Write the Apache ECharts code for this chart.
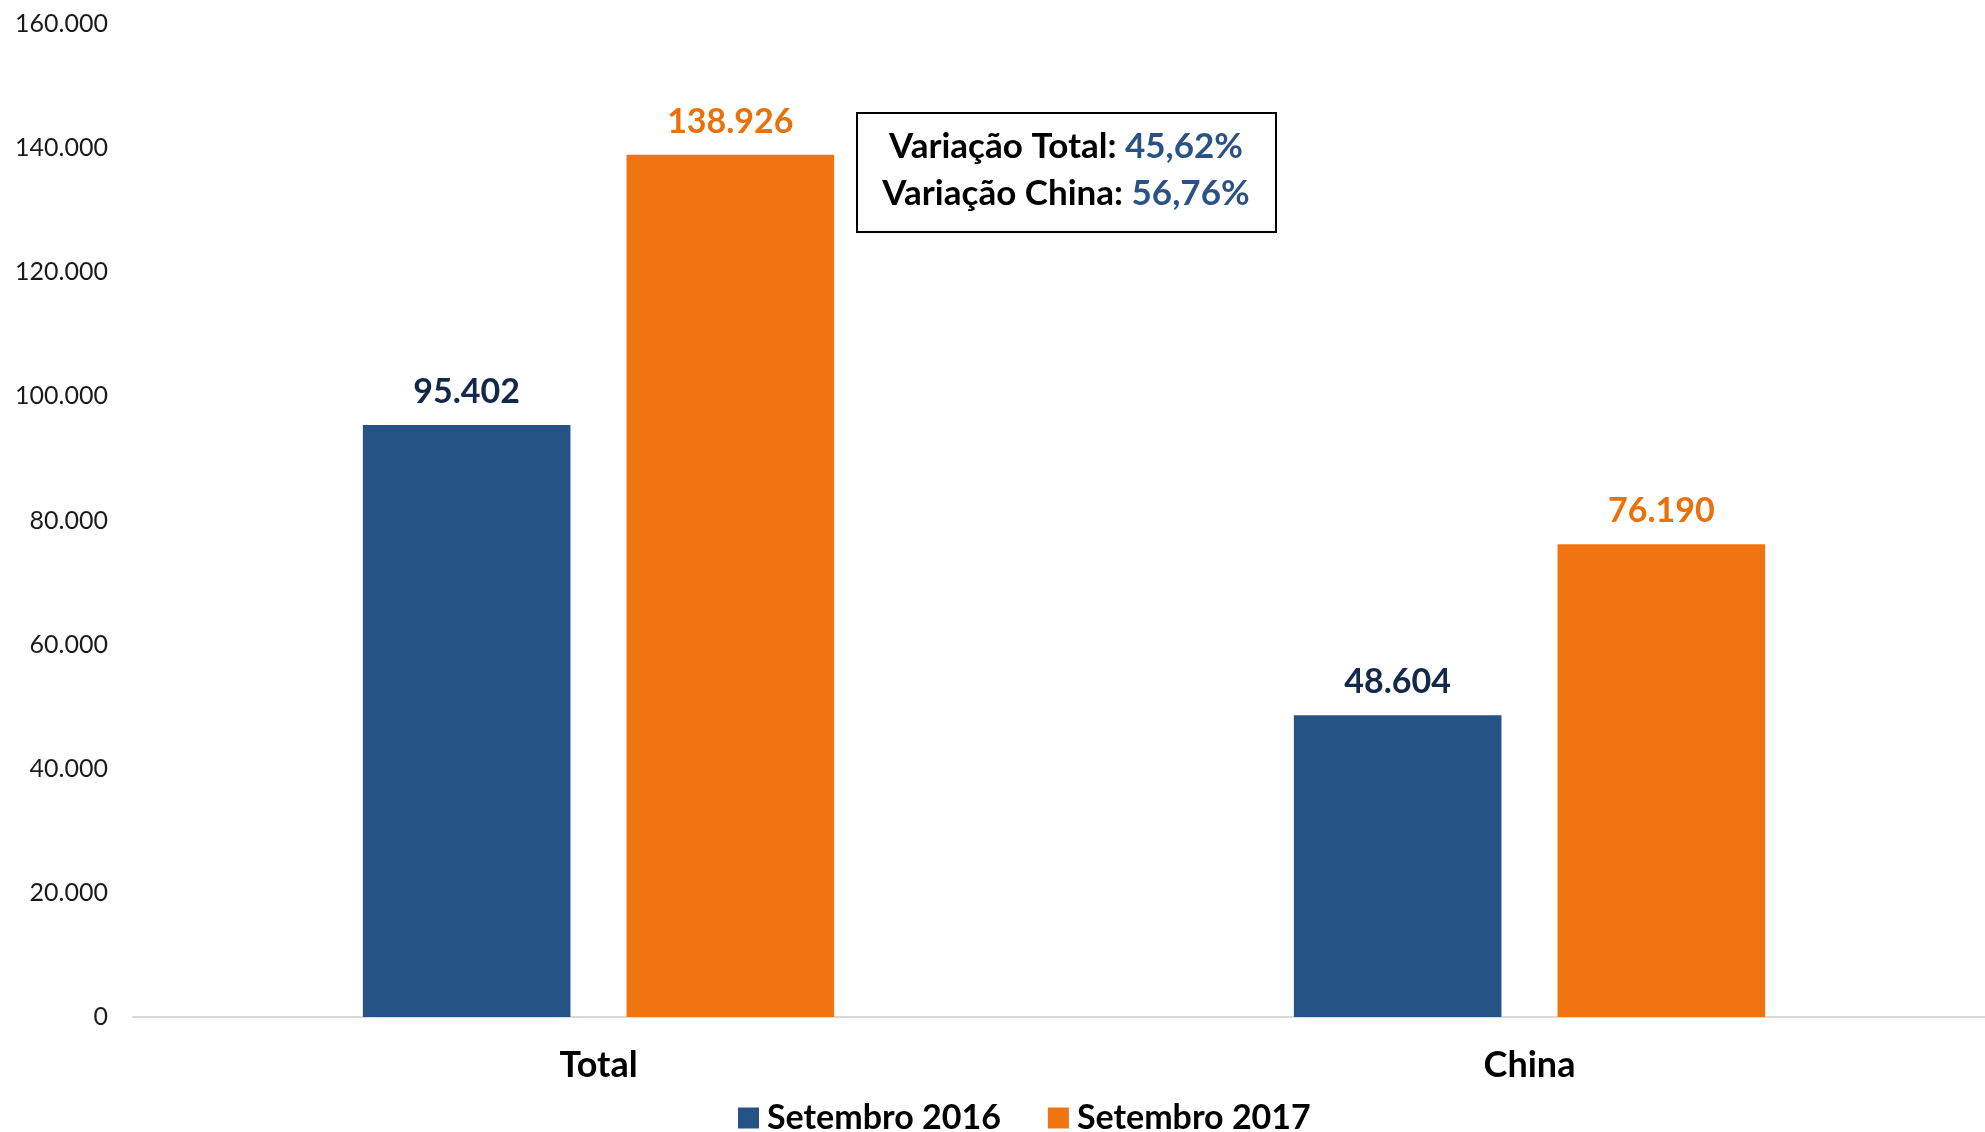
<!DOCTYPE html>
<html>
<head>
<meta charset="utf-8">
<title>Setembro 2016 x Setembro 2017</title>
<script src="https://cdn.jsdelivr.net/npm/echarts@6/dist/echarts.min.js"></script>
<style>
  html, body { margin: 0; padding: 0; background: #fff; overflow: hidden; }
  /* o eixo passa um pouco da borda direita no original */
  #main { width: 1995px; height: 1132px; }
</style>
</head>
<body>
<div id="main"></div>
<script>
// dados
var categories = ["Total", "China"];
var seriesNames = ["Setembro 2016", "Setembro 2017"];
var set2016 = [95402, 48604];
var set2017 = [138926, 76190];
var variationLabels = ["Variação Total: ", "Variação China: "];
var variationValues = ["45,62%", "56,76%"];

var blue = "#265386";
var orange = "#f07510";
var font = "Lato, 'Open Sans', sans-serif";

// 160000 -> 160.000
function fmt(v) {
  return String(v).replace(/\B(?=(\d{3})+(?!\d))/g, ".");
}

var chartDom = document.getElementById("main");
var myChart = echarts.init(chartDom);
var option;

option = {
  animation: false,
  textStyle: { fontFamily: font },
  grid: {
    left: 133,
    right: 0,
    top: 24,
    bottom: 115,
  },
  legend: {
    data: seriesNames,
    left: 733,
    top: 1096,
    itemWidth: 21,
    itemHeight: 21,
    itemGap: 47,
    icon: "rect",
    textStyle: {
      fontFamily: font,
      fontSize: 34,
      fontWeight: "bold",
      color: "#000",
      padding: [0, 0, 0, 3],
    },
  },
  xAxis: {
    type: "category",
    data: categories,
    axisTick: { show: false },
    axisLine: { lineStyle: { color: "#d9d9d9", width: 2 } },
    axisLabel: {
      margin: 30,
      fontSize: 36,
      fontWeight: "bold",
      color: "#000",
      fontFamily: font,
    },
  },
  yAxis: {
    type: "value",
    min: 0,
    max: 160000,
    interval: 20000,
    splitLine: { show: false },
    axisLine: { show: false },
    axisTick: { show: false },
    axisLabel: {
      margin: 25,
      fontSize: 25,
      color: "#1a1a1a",
      fontFamily: font,
      formatter: fmt,
    },
  },
  series: [
    {
      name: seriesNames[0],
      type: "bar",
      data: set2016,
      barWidth: "22.3%",
      barGap: "27%",
      itemStyle: { color: blue },
      label: {
        show: true,
        position: "top",
        distance: 16,
        fontSize: 34,
        fontWeight: "bold",
        color: "#14284a",
        fontFamily: font,
        formatter: function (p) { return fmt(p.value); },
      },
    },
    {
      name: seriesNames[1],
      type: "bar",
      data: set2017,
      barWidth: "22.3%",
      barGap: "27%",
      itemStyle: { color: orange },
      label: {
        show: true,
        position: "top",
        distance: 16,
        fontSize: 34,
        fontWeight: "bold",
        color: "#e8710c",
        fontFamily: font,
        formatter: function (p) { return fmt(p.value); },
      },
    },
  ],
  graphic: [
    {
      type: "rect",
      shape: { x: 857, y: 113, width: 419, height: 119 },
      style: { fill: "#fff", stroke: "#000", lineWidth: 2 },
    },
    {
      type: "text",
      x: 1066,
      y: 147,
      style: {
        text: "{a|" + variationLabels[0] + "}{b|" + variationValues[0] + "}",
        align: "center",
        verticalAlign: "middle",
        rich: {
          a: { fontFamily: font, fontSize: 35, fontWeight: "bold", fill: "#000" },
          b: { fontFamily: font, fontSize: 35, fontWeight: "bold", fill: "#2a5285" },
        },
      },
    },
    {
      type: "text",
      x: 1066,
      y: 194,
      style: {
        text: "{a|" + variationLabels[1] + "}{b|" + variationValues[1] + "}",
        align: "center",
        verticalAlign: "middle",
        rich: {
          a: { fontFamily: font, fontSize: 35, fontWeight: "bold", fill: "#000" },
          b: { fontFamily: font, fontSize: 35, fontWeight: "bold", fill: "#2a5285" },
        },
      },
    },
  ],
};

option && myChart.setOption(option);
</script>
</body>
</html>
